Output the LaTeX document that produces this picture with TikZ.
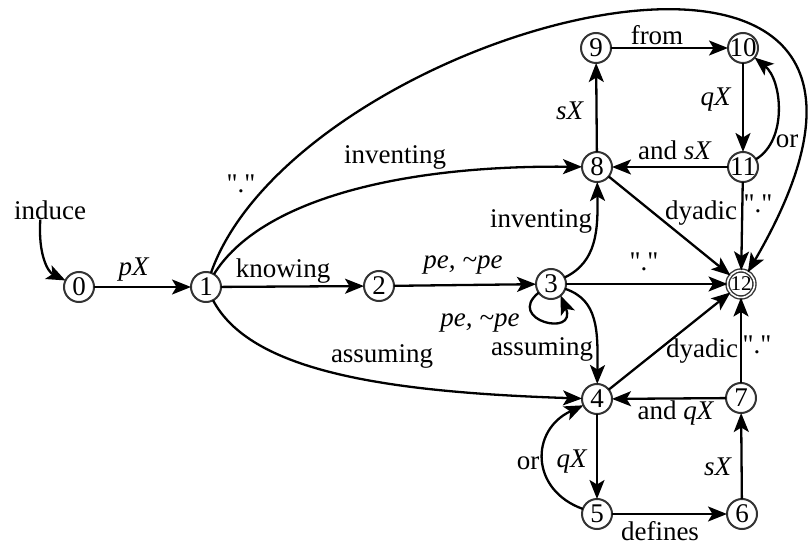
\documentclass[tikz,border=0pt]{standalone}
\usepackage{fontspec}
\setmainfont{Liberation Serif}[Ligatures=TeXOff]
\usetikzlibrary{arrows.meta}
\definecolor{ringgray}{HTML}{333333}
\newcommand\zw[1]{\makebox[0pt]{#1}}
\begin{document}
\begin{tikzpicture}[x=1pt,y=-1pt,
  st/.style={circle,draw=ringgray,line width=2pt,minimum size=30pt,inner sep=0pt,outer sep=0pt,font=\fontsize{27}{29}\selectfont},
  fin/.style={st,double=white,double distance=1.6pt,line width=1.4pt,minimum size=27pt},
  ed/.style={line width=2.3pt,-{Stealth[length=19pt,width=15pt,inset=4.5pt]}},
  lb/.style={font=\fontsize{27}{29}\selectfont,inner sep=0pt},
]
\useasboundingbox (0,0) rectangle (808,545);

% states
\node[st] (0) at (79,287) {\zw{0}};
\node[st] (1) at (206,287) {\zw{1}};
\node[st] (2) at (379,286) {\zw{2}};
\node[st] (3) at (551,284) {\zw{3}};
\node[fin] (12) at (741,284) {\zw{\fontsize{21}{23}\selectfont 12}};
\node[st] (8) at (597,167) {\zw{8}};
\node[st] (9) at (596,48) {\zw{9}};
\node[st] (10) at (743,48) {\zw{10}};
\node[st] (11) at (743,167) {\zw{11}};
\node[st] (4) at (597,399) {\zw{4}};
\node[st] (7) at (741,398) {\zw{7}};
\node[st] (5) at (597,514) {\zw{5}};
\node[st] (6) at (742,514) {\zw{6}};

\node[lb] (induce) at (50,210) {induce};

% edges
\draw[ed] (induce.225) .. controls (38,255) and (48,272) .. (0);
\draw[ed] (0) -- (1);
\draw[ed] (1) -- (2);
\draw[ed] (2) -- (3);
\draw[ed] (3) -- (12);
\draw[ed] (1) .. controls (300,20) and (1000,-160) .. (12);
\draw[ed] (1) .. controls (260,200) and (400,165) .. (8);
\draw[ed] (1) .. controls (250,370) and (380,392) .. (4);
\draw[ed] (3) .. controls (597,262) and (598,230) .. (8);
\draw[ed] (3) .. controls (598,300) and (598,330) .. (4);
\draw[ed] (3.215) .. controls (505,320) and (578,338) .. (3.-50);
\draw[ed] (8) -- (9);
\draw[ed] (9) -- (10);
\draw[ed] (10) -- (11);
\draw[ed] (11) -- (8);
\draw[ed] (8) -- (12);
\draw[ed] (11) -- (12);
\draw[ed] (11) .. controls (788,140) and (782,80) .. (10);
\draw[ed] (4) -- (5);
\draw[ed] (5) -- (6);
\draw[ed] (6) -- (7);
\draw[ed] (7) -- (4);
\draw[ed] (4) -- (12);
\draw[ed] (7) -- (12);
\draw[ed] (5) .. controls (530,490) and (530,430) .. (4);

% labels
\node[lb] (l01) at (134,270) {\textit{pX}};
\node[lb] (l12) at (283,271) {knowing};
\node[lb] (l23) at (463,265) {\textit{pe, \textasciitilde pe}};
\node[lb] (l1f) at (241,184) {"."};
\node[lb] (l18) at (395,157) {inventing};
\node[lb] (l14) at (382,356) {assuming};
\node[lb] (l38) at (541,221) {inventing};
\node[lb] (l34) at (542,349) {assuming};
\node[lb] (l33) at (480,323) {\textit{pe, \textasciitilde pe}};
\node[lb] (l3f) at (644,262) {"."};
\node[lb] (l89) at (570,111) {\textit{sX}};
\node[lb] (l910) at (657,35) {from};
\node[lb] (l1011) at (716,100) {\textit{qX}};
\node[lb] (l118) at (675,150) {and \textit{sX}};
\node[lb] (l1110) at (787,141) {or};
\node[lb] (l11f) at (758,204) {"."};
\node[lb] (l8f) at (701,213) {dyadic};
\node[lb] (l4f) at (702,351) {dyadic};
\node[lb] (l7f) at (757,345) {"."};
\node[lb] (l74) at (676,413) {and \textit{qX}};
\node[lb] (l67) at (718,467) {\textit{sX}};
\node[lb] (l54) at (528,463) {or};
\node[lb] (l45) at (572,462) {\textit{qX}};
\node[lb] (l56) at (660,531) {defines};
\end{tikzpicture}
\end{document}
